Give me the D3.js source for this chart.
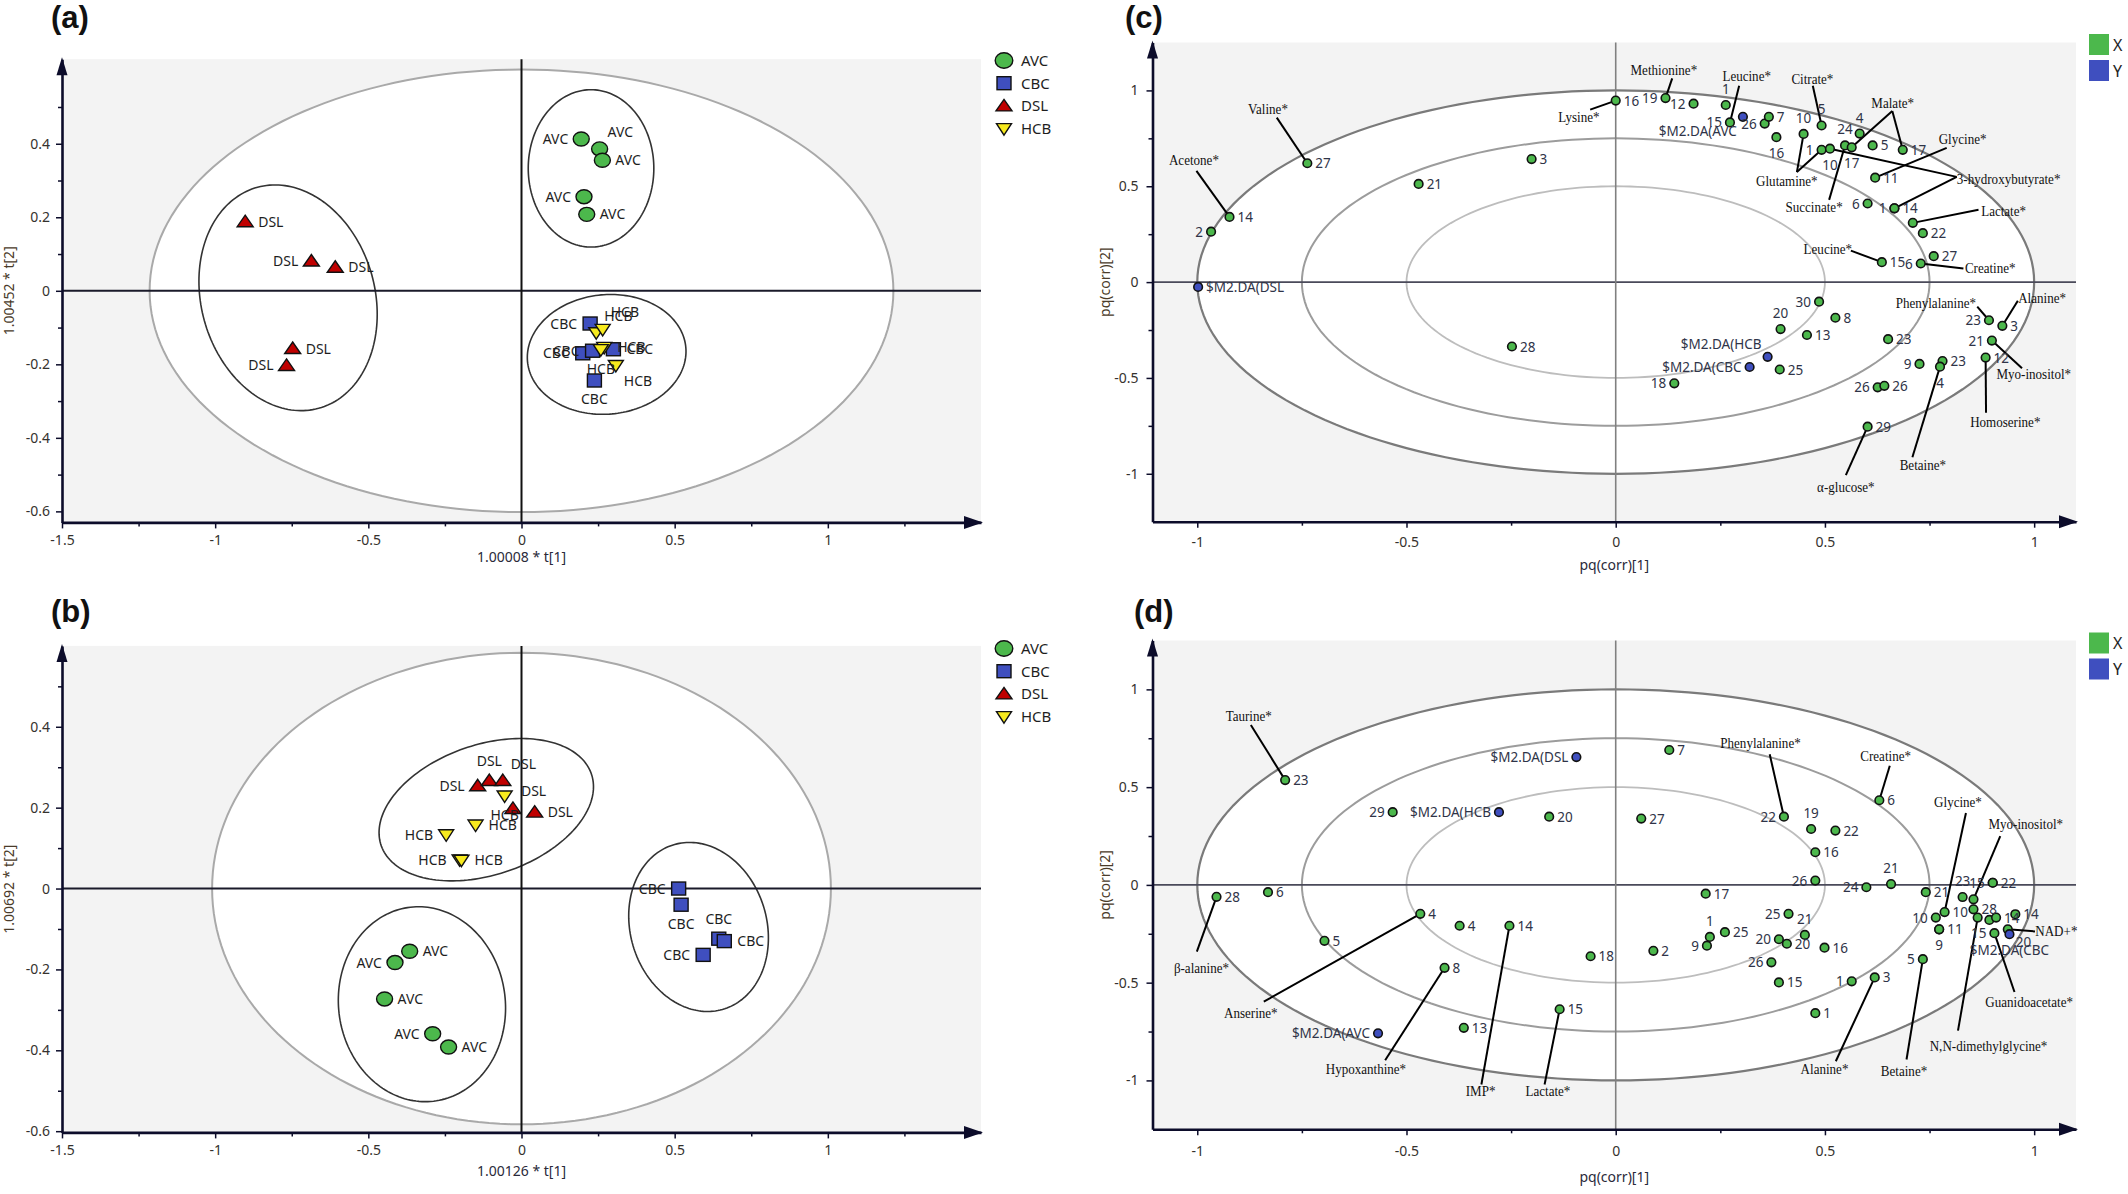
<!DOCTYPE html>
<html><head><meta charset="utf-8">
<script src="https://cdn.jsdelivr.net/npm/d3@7"></script>
<style>
body{margin:0;background:#fff;}
svg{display:block;}
.tick text{font-family:"Noto Sans",sans-serif;font-size:14px;fill:#35322e;}
.lbl{font-family:"Noto Sans",sans-serif;font-size:14px;fill:#1e1e1e;}
.num{font-family:"Noto Sans",sans-serif;font-size:13.5px;fill:#2f3448;}
.ann{font-family:"Liberation Serif",serif;font-size:15px;fill:#111;}
.ptitle{font-family:"Liberation Sans",Arial,sans-serif;font-weight:bold;font-size:31px;fill:#111;}
.axt{font-family:"Noto Sans",sans-serif;font-size:14px;}
</style></head><body>
<svg id="chart" width="2128" height="1194"></svg>
<script>
// ---------------- DATA ----------------
const groups = ["AVC", "CBC", "DSL", "HCB"];

// score plot (a): [group, t1, t2, label placement]
const scoresA = [
  ["AVC", 0.195, 0.413, "l"], ["AVC", 0.255, 0.386, "tr"], ["AVC", 0.264, 0.355, "r"],
  ["AVC", 0.204, 0.256, "l"], ["AVC", 0.213, 0.208, "r"],
  ["CBC", 0.224, -0.089, "l"], ["CBC", 0.200, -0.170, "l"], ["CBC", 0.232, -0.163, "l"],
  ["CBC", 0.300, -0.159, "r"], ["CBC", 0.238, -0.244, "b"],
  ["DSL", -0.902, 0.188, "r"], ["DSL", -0.686, 0.081, "l"], ["DSL", -0.608, 0.064, "r"],
  ["DSL", -0.747, -0.157, "r"], ["DSL", -0.767, -0.203, "l"],
  ["HCB", 0.244, -0.114, "tr"], ["HCB", 0.265, -0.105, "tr"], ["HCB", 0.270, -0.154, "r"],
  ["HCB", 0.259, -0.160, "b"], ["HCB", 0.308, -0.203, "br"]
];
// score plot (b)
const scoresB = [
  ["AVC", -0.365, -0.155, "r"], ["AVC", -0.413, -0.183, "l"], ["AVC", -0.447, -0.273, "r"],
  ["AVC", -0.290, -0.359, "l"], ["AVC", -0.238, -0.392, "r"],
  ["CBC", 0.513, 0.000, "l"], ["CBC", 0.521, -0.040, "b"], ["CBC", 0.644, -0.124, "t"],
  ["CBC", 0.662, -0.130, "r"], ["CBC", 0.593, -0.164, "l"],
  ["HCB", -0.055, 0.229, "b"], ["HCB", -0.150, 0.157, "r"], ["HCB", -0.246, 0.133, "l"],
  ["HCB", -0.202, 0.071, "l"], ["HCB", -0.196, 0.070, "r"],
  ["DSL", -0.143, 0.254, "l"], ["DSL", -0.105, 0.267, "t"], ["DSL", -0.061, 0.267, "tr"],
  ["DSL", -0.028, 0.198, "tr"], ["DSL", 0.043, 0.189, "r"]
];
// Hotelling T2 ellipse radii [t1, t2]
const hotellingA = [1.214, 0.602];
const hotellingB = [1.010, 0.583];
// group ellipses: [centre t1, centre t2, sd t1, sd t2, correlation]
const ellipsesA = [
  [-0.762, -0.019, 0.291, 0.307, -0.146],
  [0.227, 0.333, 0.205, 0.214, 0.0],
  [0.278, -0.173, 0.259, 0.163, 0.05]
];
const ellipsesB = [
  [-0.115, 0.195, 0.350, 0.176, 0.322],
  [-0.325, -0.286, 0.273, 0.241, -0.04],
  [0.578, -0.095, 0.228, 0.209, -0.13]
];

// loading plot (c): [label, pq1, pq2, label placement, block]
const loadingsC = [
  ["27", -0.737, 0.620, "r", "X"], ["14", -0.923, 0.340, "r", "X"], ["2", -0.967, 0.263, "l", "X"],
  ["21", -0.471, 0.512, "r", "X"], ["3", -0.201, 0.642, "r", "X"], ["28", -0.248, -0.336, "r", "X"],
  ["16", 0.000, 0.947, "r", "X"], ["19", 0.119, 0.960, "l", "X"], ["12", 0.186, 0.931, "l", "X"],
  ["1", 0.263, 0.924, "t", "X"], ["15", 0.273, 0.833, "l", "X"], ["26", 0.356, 0.827, "l", "X"],
  ["7", 0.366, 0.862, "r", "X"], ["16", 0.384, 0.756, "b", "X"], ["10", 0.449, 0.773, "t", "X"],
  ["5", 0.492, 0.817, "t", "X"], ["4", 0.583, 0.775, "t", "X"], ["24", 0.548, 0.713, "t", "X"],
  ["17", 0.564, 0.703, "b", "X"], ["1", 0.492, 0.690, "l", "X"], ["10", 0.512, 0.696, "b", "X"],
  ["5", 0.614, 0.713, "r", "X"], ["17", 0.686, 0.690, "r", "X"], ["11", 0.620, 0.545, "r", "X"],
  ["6", 0.602, 0.410, "l", "X"], ["1", 0.666, 0.385, "l", "X"], ["14", 0.666, 0.385, "r", "X"],
  ["", 0.710, 0.309, "r", "X"], ["22", 0.734, 0.255, "r", "X"], ["27", 0.760, 0.135, "r", "X"],
  ["15", 0.636, 0.104, "r", "X"], ["6", 0.729, 0.097, "l", "X"], ["30", 0.486, -0.102, "l", "X"],
  ["8", 0.525, -0.186, "r", "X"], ["20", 0.394, -0.245, "t", "X"], ["13", 0.457, -0.276, "r", "X"],
  ["23", 0.651, -0.298, "r", "X"], ["25", 0.392, -0.456, "r", "X"], ["18", 0.140, -0.528, "l", "X"],
  ["23", 0.892, -0.199, "l", "X"], ["3", 0.924, -0.228, "r", "X"], ["21", 0.899, -0.305, "l", "X"],
  ["12", 0.884, -0.394, "r", "X"], ["9", 0.726, -0.427, "l", "X"], ["23", 0.781, -0.412, "r", "X"],
  ["4", 0.775, -0.441, "b", "X"], ["26", 0.626, -0.549, "l", "X"], ["26", 0.642, -0.541, "r", "X"],
  ["29", 0.602, -0.754, "r", "X"],
  ["$M2.DA(DSL", -0.998, -0.025, "r", "Y"], ["$M2.DA(AVC", 0.304, 0.862, "bl", "Y"],
  ["$M2.DA(HCB", 0.363, -0.390, "tl", "Y"], ["$M2.DA(CBC", 0.320, -0.443, "l", "Y"]
];
// annotation names (c): [text, pq1, pq2]
const annotationsC = [
  ["Valine*", -0.831, 0.906], ["Acetone*", -1.008, 0.638], ["Lysine*", -0.088, 0.864],
  ["Methionine*", 0.115, 1.109], ["Leucine*", 0.313, 1.076], ["Citrate*", 0.470, 1.063],
  ["Malate*", 0.662, 0.937], ["Glycine*", 0.829, 0.748], ["Glutamine*", 0.409, 0.531],
  ["Succinate*", 0.474, 0.396], ["3-hydroxybutyrate*", 0.939, 0.541], ["Lactate*", 0.927, 0.371],
  ["Leucine*", 0.507, 0.174], ["Creatine*", 0.895, 0.077], ["Phenylalanine*", 0.765, -0.106],
  ["Alanine*", 1.019, -0.083], ["Myo-inositol*", 0.999, -0.475], ["Homoserine*", 0.931, -0.727],
  ["Betaine*", 0.734, -0.953], ["α-glucose*", 0.550, -1.065]
];
// leader lines (c): [from pq1, from pq2, to pq1, to pq2]
const leadersC = [
  [-0.810, 0.858, -0.737, 0.620], [-1.002, 0.580, -0.923, 0.340], [-0.061, 0.900, 0.000, 0.947],
  [0.135, 1.063, 0.119, 0.960], [0.295, 1.024, 0.273, 0.833], [0.471, 1.024, 0.492, 0.817],
  [0.661, 0.893, 0.564, 0.703], [0.661, 0.893, 0.686, 0.690], [0.791, 0.700, 0.620, 0.545],
  [0.433, 0.574, 0.449, 0.773], [0.433, 0.574, 0.492, 0.690], [0.510, 0.429, 0.548, 0.713],
  [0.815, 0.549, 0.512, 0.696], [0.815, 0.549, 0.666, 0.385], [0.867, 0.377, 0.710, 0.309],
  [0.562, 0.164, 0.636, 0.104], [0.831, 0.071, 0.729, 0.097], [0.864, -0.128, 0.892, -0.199],
  [0.961, -0.097, 0.924, -0.228], [0.971, -0.450, 0.899, -0.305], [0.885, -0.682, 0.884, -0.394],
  [0.709, -0.914, 0.775, -0.441], [0.550, -1.007, 0.602, -0.754]
];

// loading plot (d)
const loadingsD = [
  ["23", -0.790, 0.536, "r", "X"], ["29", -0.533, 0.372, "l", "X"], ["20", -0.159, 0.349, "r", "X"],
  ["28", -0.954, -0.061, "r", "X"], ["6", -0.831, -0.037, "r", "X"], ["4", -0.467, -0.148, "r", "X"],
  ["4", -0.373, -0.209, "r", "X"], ["14", -0.254, -0.209, "r", "X"], ["5", -0.696, -0.286, "r", "X"],
  ["18", -0.060, -0.365, "r", "X"], ["8", -0.409, -0.424, "r", "X"], ["15", -0.134, -0.636, "r", "X"],
  ["13", -0.363, -0.731, "r", "X"], ["7", 0.128, 0.690, "r", "X"], ["27", 0.061, 0.339, "r", "X"],
  ["22", 0.402, 0.349, "l", "X"], ["19", 0.467, 0.286, "t", "X"], ["22", 0.525, 0.278, "r", "X"],
  ["6", 0.630, 0.433, "r", "X"], ["16", 0.477, 0.167, "r", "X"], ["26", 0.477, 0.022, "l", "X"],
  ["24", 0.599, -0.012, "l", "X"], ["21", 0.658, 0.004, "t", "X"], ["17", 0.215, -0.045, "r", "X"],
  ["25", 0.413, -0.148, "l", "X"], ["21", 0.452, -0.256, "t", "X"], ["1", 0.225, -0.266, "t", "X"],
  ["9", 0.218, -0.311, "l", "X"], ["25", 0.261, -0.242, "r", "X"], ["2", 0.090, -0.337, "r", "X"],
  ["20", 0.390, -0.278, "l", "X"], ["20", 0.409, -0.301, "r", "X"], ["16", 0.499, -0.321, "r", "X"],
  ["26", 0.372, -0.396, "l", "X"], ["15", 0.390, -0.499, "r", "X"], ["1", 0.564, -0.493, "l", "X"],
  ["3", 0.619, -0.473, "r", "X"], ["1", 0.477, -0.656, "r", "X"], ["5", 0.734, -0.380, "l", "X"],
  ["21", 0.741, -0.037, "r", "X"], ["10", 0.765, -0.167, "l", "X"], ["10", 0.786, -0.139, "r", "X"],
  ["23", 0.829, -0.062, "t", "X"], ["", 0.855, -0.074, "r", "X"], ["15", 0.901, 0.011, "l", "X"],
  ["22", 0.901, 0.011, "r", "X"], ["28", 0.855, -0.125, "r", "X"], ["", 0.865, -0.167, "r", "X"],
  ["", 0.893, -0.179, "r", "X"], ["14", 0.909, -0.167, "r", "X"], ["14", 0.955, -0.150, "r", "X"],
  ["11", 0.773, -0.227, "r", "X"], ["9", 0.773, -0.227, "b", "X"], ["15", 0.905, -0.247, "l", "X"],
  ["20", 0.937, -0.227, "br", "X"],
  ["$M2.DA(DSL", -0.094, 0.654, "l", "Y"], ["$M2.DA(HCB", -0.279, 0.372, "l", "Y"],
  ["$M2.DA(AVC", -0.568, -0.759, "l", "Y"], ["$M2.DA(CBC", 0.941, -0.252, "b", "Y"]
];
const annotationsD = [
  ["Taurine*", -0.877, 0.865], ["β-alanine*", -0.990, -0.424], ["Anserine*", -0.872, -0.652],
  ["Hypoxanthine*", -0.597, -0.942], ["IMP*", -0.323, -1.054], ["Lactate*", -0.162, -1.050],
  ["Phenylalanine*", 0.346, 0.727], ["Creatine*", 0.645, 0.660], ["Glycine*", 0.818, 0.424],
  ["Myo-inositol*", 0.980, 0.313], ["NAD+*", 1.053, -0.233], ["Guanidoacetate*", 0.988, -0.597],
  ["N,N-dimethylglycine*", 0.891, -0.820], ["Alanine*", 0.499, -0.942], ["Betaine*", 0.689, -0.952]
];
const leadersD = [
  [-0.872, 0.818, -0.790, 0.536], [-1.001, -0.341, -0.954, -0.061], [-0.841, -0.597, -0.467, -0.148],
  [-0.551, -0.897, -0.409, -0.424], [-0.321, -1.021, -0.254, -0.209], [-0.170, -1.021, -0.134, -0.636],
  [0.368, 0.668, 0.402, 0.349], [0.655, 0.609, 0.630, 0.433], [0.837, 0.368, 0.786, -0.139],
  [0.919, 0.250, 0.855, -0.074], [1.002, -0.238, 0.937, -0.227], [0.953, -0.548, 0.905, -0.247],
  [0.818, -0.745, 0.865, -0.167], [0.526, -0.902, 0.619, -0.473], [0.695, -0.893, 0.734, -0.380]
];

// tick values
const scoreXTicks = [-1.5, -1, -0.5, 0, 0.5, 1];
const scoreXMinor = [-1.25, -0.75, -0.25, 0.25, 0.75, 1.25];
const scoreYTicks = [-0.6, -0.4, -0.2, 0, 0.2, 0.4];
const scoreYMinor = [-0.5, -0.3, -0.1, 0.1, 0.3, 0.5];
const loadTicks = [-1, -0.5, 0, 0.5, 1];
const loadMinor = [-0.75, -0.25, 0.25, 0.75];
const blocks = ["X", "Y"];

// ---------------- STYLE / LAYOUT ----------------
const groupFill = {AVC: "#4cb84c", CBC: "#3f4fbf", DSL: "#c00000", HCB: "#f7ea1e"};
const groupShape = {AVC: "circle", CBC: "square", DSL: "tri", HCB: "itri"};
const blockFill = {X: "#4cb84c", Y: "#3f4fbf"};

const svg = d3.select("#chart");

function scales(L) {
  return {
    x: d3.scaleLinear().domain(L.xDom).range([L.x0, L.x1]),
    y: d3.scaleLinear().domain(L.yDom).range([L.y0, L.y1])
  };
}
function ellPath(s, cx, cy, sx, sy, r) {
  const k = Math.sqrt(1 - r * r);
  const pts = d3.range(0, 361, 2).map(a => {
    const t = a * Math.PI / 180;
    return [s.x(cx + sx * Math.cos(t)), s.y(cy + sy * (r * Math.cos(t) + k * Math.sin(t)))];
  });
  return d3.line().curve(d3.curveLinearClosed)(pts);
}
function marker(g, shape, x, y, fill, big) {
  const k = big ? 1.1 : 1;
  if (shape === "circle") {
    g.append("ellipse").attr("cx", x).attr("cy", y).attr("rx", 8 * k).attr("ry", 7 * k)
      .attr("fill", fill).attr("stroke", "#111").attr("stroke-width", 1.4);
  } else if (shape === "square") {
    g.append("rect").attr("x", x - 7).attr("y", y - 6.5).attr("width", 14).attr("height", 13)
      .attr("fill", fill).attr("stroke", "#111").attr("stroke-width", 1.4);
  } else if (shape === "tri") {
    g.append("path").attr("d", `M${x},${y - 6.5}L${x + 8},${y + 5}L${x - 8},${y + 5}Z`)
      .attr("fill", fill).attr("stroke", "#111").attr("stroke-width", 1.4);
  } else {
    g.append("path").attr("d", `M${x},${y + 6.5}L${x + 7.5},${y - 5}L${x - 7.5},${y - 5}Z`)
      .attr("fill", fill).attr("stroke", "#111").attr("stroke-width", 1.4);
  }
}
const scoreOff = {r: [13, 5, "start"], l: [-13, 5, "end"], t: [0, -15, "middle"], b: [0, 24, "middle"],
  tr: [8, -12, "start"], br: [8, 21, "start"]};
const loadOff = {r: [8, 5, "start"], l: [-8, 5, "end"], t: [0, -11, "middle"], b: [0, 21, "middle"],
  tl: [-6, -8, "end"], bl: [-6, 19, "end"], br: [8, 18, "start"]};

function drawAxes(g, L, s, o) {
  const fmt = d => String(d);
  const gx = g.append("g").attr("transform", `translate(0,${L.y0})`)
    .call(d3.axisBottom(s.x).tickValues(o.xt).tickFormat(fmt).tickSize(6).tickSizeOuter(0).tickPadding(o.xpad));
  const gxm = g.append("g").attr("transform", `translate(0,${L.y0})`)
    .call(d3.axisBottom(s.x).tickValues(o.xm).tickFormat("").tickSize(4).tickSizeOuter(0));
  gxm.select(".domain").remove();
  const gy = g.append("g").attr("transform", `translate(${L.x0},0)`)
    .call(d3.axisLeft(s.y).tickValues(o.yt).tickFormat(fmt).tickSize(6).tickSizeOuter(0).tickPadding(o.ypad));
  const gym = g.append("g").attr("transform", `translate(${L.x0},0)`)
    .call(d3.axisLeft(s.y).tickValues(o.ym).tickFormat("").tickSize(4).tickSizeOuter(0));
  gym.select(".domain").remove();
  [gx, gxm, gy, gym].forEach(a => {
    a.attr("font-family", null).attr("font-size", null);
    a.selectAll(".domain").attr("stroke", "#0c0c2a").attr("stroke-width", 2.6);
    a.selectAll(".tick line").attr("stroke", "#0c0c2a").attr("stroke-width", 1.5);
  });
  // arrowheads
  g.append("path").attr("d", `M${L.x1 + 2},${L.y0}L${L.x1 - 17},${L.y0 - 6.5}L${L.x1 - 17},${L.y0 + 6.5}Z`).attr("fill", "#0c0c2a");
  g.append("path").attr("d", `M${L.x0},${L.y1 - 2}L${L.x0 - 5.5},${L.y1 + 16}L${L.x0 + 5.5},${L.y1 + 16}Z`).attr("fill", "#0c0c2a");
  // titles
  g.append("text").attr("class", "axt").attr("x", (L.x0 + L.x1) / 2).attr("y", o.xtY)
    .attr("text-anchor", "middle").attr("fill", "#2a2a3a").text(o.xTitle);
  g.append("text").attr("class", "axt").attr("transform", `translate(${o.ytX},${(L.y0 + L.y1) / 2}) rotate(-90)`)
    .attr("text-anchor", "middle").attr("fill", "#4a3b2a").text(o.yTitle);
}

function scorePanel(L, scores, hot, ells, o) {
  const s = scales(L);
  const g = svg.append("g");
  g.append("rect").attr("x", L.x0).attr("y", L.y1).attr("width", L.x1 - L.x0).attr("height", L.y0 - L.y1).attr("fill", "#f3f3f3");
  g.append("path").attr("d", ellPath(s, 0, 0, hot[0], hot[1], 0)).attr("fill", "#fff").attr("stroke", "#a9a9a9").attr("stroke-width", 2);
  ells.forEach(e => g.append("path").attr("d", ellPath(s, e[0], e[1], e[2], e[3], e[4]))
    .attr("fill", "none").attr("stroke", "#333").attr("stroke-width", 1.6));
  g.append("line").attr("x1", L.x0).attr("x2", L.x1).attr("y1", s.y(0)).attr("y2", s.y(0)).attr("stroke", "#1a1a2a").attr("stroke-width", 2);
  g.append("line").attr("x1", s.x(0)).attr("x2", s.x(0)).attr("y1", L.y1).attr("y2", L.y0).attr("stroke", "#111").attr("stroke-width", 2);
  drawAxes(g, L, s, o);
  const gm = g.append("g");
  scores.forEach(d => marker(gm, groupShape[d[0]], s.x(d[1]), s.y(d[2]), groupFill[d[0]]));
  scores.forEach(d => {
    const off = scoreOff[d[3]];
    gm.append("text").attr("class", "lbl").attr("x", s.x(d[1]) + off[0]).attr("y", s.y(d[2]) + off[1])
      .attr("text-anchor", off[2]).text(d[0]);
  });
  // legend
  const lg = g.append("g");
  groups.forEach((gr, i) => {
    const yy = o.legY + i * 22.7;
    marker(lg, groupShape[gr], 1004, yy, groupFill[gr], true);
    lg.append("text").attr("class", "lbl").attr("x", 1021).attr("y", yy + 5.5).style("font-size", "15px").text(gr);
  });
  svg.append("text").attr("class", "ptitle").attr("x", o.tx).attr("y", o.ty).text(o.title);
}

function loadingPanel(L, loads, anns, leads, o) {
  const s = scales(L);
  const g = svg.append("g");
  g.append("rect").attr("x", L.x0).attr("y", L.y1).attr("width", L.x1 - L.x0).attr("height", L.y0 - L.y1).attr("fill", "#f3f3f3");
  g.append("path").attr("d", ellPath(s, 0, 0, 1, 1, 0)).attr("fill", "#fff").attr("stroke", "#7a7a7a").attr("stroke-width", 2.2);
  g.append("path").attr("d", ellPath(s, 0, 0, 0.75, 0.75, 0)).attr("fill", "none").attr("stroke", "#9c9c9c").attr("stroke-width", 2);
  g.append("path").attr("d", ellPath(s, 0, 0, 0.5, 0.5, 0)).attr("fill", "none").attr("stroke", "#bdbdbd").attr("stroke-width", 1.8);
  g.append("line").attr("x1", L.x0).attr("x2", L.x1).attr("y1", s.y(0)).attr("y2", s.y(0)).attr("stroke", "#4a4a5a").attr("stroke-width", 1.6);
  g.append("line").attr("x1", s.x(0)).attr("x2", s.x(0)).attr("y1", L.y1).attr("y2", L.y0).attr("stroke", "#808080").attr("stroke-width", 1.6);
  drawAxes(g, L, s, o);
  leads.forEach(d => g.append("line").attr("x1", s.x(d[0])).attr("y1", s.y(d[1])).attr("x2", s.x(d[2])).attr("y2", s.y(d[3]))
    .attr("stroke", "#000").attr("stroke-width", 2));
  loads.forEach(d => g.append("circle").attr("cx", s.x(d[1])).attr("cy", s.y(d[2])).attr("r", 4.3)
    .attr("fill", blockFill[d[4]]).attr("stroke", "#111").attr("stroke-width", 1.6));
  loads.forEach(d => {
    if (!d[0]) return;
    const off = loadOff[d[3]];
    g.append("text").attr("class", "num").attr("x", s.x(d[1]) + off[0]).attr("y", s.y(d[2]) + off[1])
      .attr("text-anchor", off[2]).text(d[0]);
  });
  anns.forEach(d => g.append("g").attr("transform", `translate(${s.x(d[1])},${s.y(d[2])}) scale(0.87,1)`)
    .append("text").attr("class", "ann").attr("text-anchor", "middle").attr("dy", "0.36em").text(d[0]));
  // legend
  blocks.forEach((b, i) => {
    const yy = o.legY + i * 26;
    g.append("rect").attr("x", 2089).attr("y", yy - 10.5).attr("width", 20).attr("height", 21).attr("fill", blockFill[b]);
    g.append("text").attr("class", "lbl").attr("x", 2113).attr("y", yy + 6).style("font-size", "16px").text(b);
  });
  svg.append("text").attr("class", "ptitle").attr("x", o.tx).attr("y", o.ty).text(o.title);
}

scorePanel({x0: 62, x1: 981, y0: 522.4, y1: 59.2, xDom: [-1.5, 1.5], yDom: [-0.63, 0.63]},
  scoresA, hotellingA, ellipsesA,
  {xt: scoreXTicks, xm: scoreXMinor, yt: scoreYTicks, ym: scoreYMinor, xpad: 7, ypad: 6,
   xTitle: "1.00008 * t[1]", yTitle: "1.00452 * t[2]", xtY: 562, ytX: 14, legY: 60.5, title: "(a)", tx: 51, ty: 28});
scorePanel({x0: 62, x1: 981, y0: 1132.4, y1: 645.9, xDom: [-1.5, 1.5], yDom: [-0.603, 0.6]},
  scoresB, hotellingB, ellipsesB,
  {xt: scoreXTicks, xm: scoreXMinor, yt: scoreYTicks, ym: scoreYMinor, xpad: 7, ypad: 6,
   xTitle: "1.00126 * t[1]", yTitle: "1.00692 * t[2]", xtY: 1176, ytX: 14, legY: 648.5, title: "(b)", tx: 51, ty: 622});
loadingPanel({x0: 1152.5, x1: 2076, y0: 521.7, y1: 42.5, xDom: [-1.107, 1.10], yDom: [-1.25, 1.25]},
  loadingsC, annotationsC, leadersC,
  {xt: loadTicks, xm: loadMinor, yt: loadTicks, ym: loadMinor, xpad: 9, ypad: 8,
   xTitle: "pq(corr)[1]", yTitle: "pq(corr)[2]", xtY: 570, ytX: 1110, legY: 44.5, title: "(c)", tx: 1125, ty: 28});
loadingPanel({x0: 1152.5, x1: 2076, y0: 1129.3, y1: 640.5, xDom: [-1.107, 1.10], yDom: [-1.25, 1.25]},
  loadingsD, annotationsD, leadersD,
  {xt: loadTicks, xm: loadMinor, yt: loadTicks, ym: loadMinor, xpad: 11, ypad: 8,
   xTitle: "pq(corr)[1]", yTitle: "pq(corr)[2]", xtY: 1182, ytX: 1110, legY: 643, title: "(d)", tx: 1134, ty: 622});
</script></body></html>
